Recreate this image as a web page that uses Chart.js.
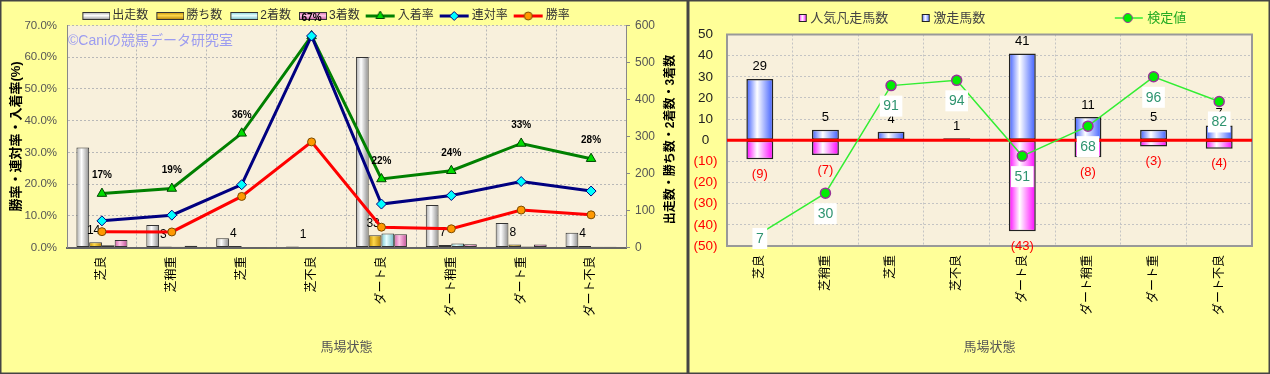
<!DOCTYPE html>
<html>
<head>
<meta charset="utf-8">
<script src="https://cdn.jsdelivr.net/npm/chart.js@4.4.1/dist/chart.umd.min.js"></script>
<style>
  html, body { margin: 0; padding: 0; background: #ffff99; }
  #wrap { position: relative; width: 1270px; height: 374px; }
  #left { position: absolute; left: 0; top: 0; width: 688px; height: 374px; }
  #right { position: absolute; left: 688px; top: 0; width: 582px; height: 374px; }
</style>
</head>
<body>
<div id="wrap">
  <canvas id="left" width="688" height="374"></canvas>
  <canvas id="right" width="582" height="374"></canvas>
</div>
<script>
var categories = ['芝良', '芝稍重', '芝重', '芝不良', 'ダート良', 'ダート稍重', 'ダート重', 'ダート不良'];

// left chart: head counts (right axis)
var starts  = [270, 61, 25, 3, 515, 115, 66, 40];
var wins    = [14, 3, 4, 1, 33, 7, 8, 4];
var seconds = [6, 2, 1, 1, 38, 11, 3, 2];
var thirds  = [20, 5, 1, 0, 36, 9, 8, 2];

// left chart: rates in % (left axis)
var placeRate    = [17.0, 18.6, 36.0, 66.7, 21.6, 24.2, 32.8, 28.0];
var quinellaRate = [8.4, 10.2, 19.8, 66.7, 13.7, 16.4, 20.8, 17.8];
var winRate      = [5.0, 4.9, 16.1, 33.3, 6.4, 5.9, 11.8, 10.3];

// right chart
var hitCounts  = [29, 5, 4, 1, 41, 11, 5, 7];
var flopCounts = [-9, -7, 0, 0, -43, -8, -3, -4];
var testValues = [7, 30, 91, 94, 51, 68, 96, 82];

var FONT = '"Liberation Sans", "Noto Sans CJK JP", sans-serif';
Chart.defaults.font.family = FONT;
Chart.defaults.animation = false;

// yellow panel, beige plot area, outer frame
var panelPlugin = {
  id: 'panel',
  beforeDraw: function(chart) {
    var c = chart.ctx, a = chart.chartArea;
    c.save();
    c.fillStyle = '#ffff99';
    c.fillRect(0, 0, chart.width, chart.height);
    c.fillStyle = '#f8f0dc';
    c.fillRect(a.left, a.top, a.right - a.left, a.bottom - a.top);
    c.restore();
  },
  afterDraw: function(chart) {
    var c = chart.ctx;
    c.save();
    c.strokeStyle = '#444';
    c.lineWidth = 1.5;
    c.strokeRect(0.75, 0.75, chart.width - 1.5, chart.height - 1.5);
    c.restore();
  }
};

// cylinder look for the bars
var cylinderPlugin = {
  id: 'cylinder',
  beforeDatasetsDraw: function(chart) {
    var c = chart.ctx;
    chart.data.datasets.forEach(function(ds, i) {
      if (!ds.shade) return;
      chart.getDatasetMeta(i).data.forEach(function(bar) {
        var g = c.createLinearGradient(bar.x - bar.width / 2, 0, bar.x + bar.width / 2, 0);
        g.addColorStop(0, ds.shade[0]);
        g.addColorStop(0.4, ds.shade[1]);
        g.addColorStop(1, ds.shade[2]);
        bar.options = Object.assign({}, bar.options, { backgroundColor: g });
      });
    });
  }
};

// fixed legend height and a horizontal nudge
function legendFit(height, dx) {
  return {
    id: 'legendFit',
    afterInit: function(chart) {
      var lg = chart.legend;
      var orig = lg.fit;
      lg.fit = function() { orig.call(this); this.height = height; };
    },
    afterLayout: function(chart) {
      chart.legend.left += dx;
      chart.legend.right += dx;
    }
  };
}

function makeIcon(w, h, draw) {
  var cv = document.createElement('canvas');
  cv.width = w; cv.height = h;
  draw(cv.getContext('2d'));
  return cv;
}
function barIcon(shade) {
  return makeIcon(36, 12, function(c) {
    var g = c.createLinearGradient(0, 2, 0, 10);
    g.addColorStop(0, shade[0]); g.addColorStop(0.45, shade[1]); g.addColorStop(1, shade[2]);
    c.fillStyle = g;
    c.fillRect(8.5, 2.5, 27, 7);
    c.strokeStyle = '#333'; c.lineWidth = 1;
    c.strokeRect(8.5, 2.5, 27, 7);
  });
}
function lineIcon(color, width, style, radius, fill, stroke, x0, x1, mx) {
  return makeIcon(36, 14, function(c) {
    c.strokeStyle = color; c.lineWidth = width;
    c.beginPath(); c.moveTo(x0, 7); c.lineTo(x1, 7); c.stroke();
    c.fillStyle = fill; c.strokeStyle = stroke; c.lineWidth = 1;
    Chart.helpers.drawPoint(c, { pointStyle: style, radius: radius, rotation: 0, borderWidth: 1 }, mx, 7);
  });
}
function squareIcon(shade) {
  return makeIcon(36, 12, function(c) {
    var g = c.createLinearGradient(27, 0, 35, 0);
    g.addColorStop(0, shade[0]); g.addColorStop(0.45, shade[1]); g.addColorStop(1, shade[2]);
    c.fillStyle = g;
    c.fillRect(27.5, 2.5, 7, 7);
    c.strokeStyle = '#222'; c.lineWidth = 1;
    c.strokeRect(27.5, 2.5, 7, 7);
  });
}

var shStarts = ['#a8a8a8', '#ffffff', '#8c8c8c'];
var shWins   = ['#c08c00', '#ffd84a', '#b07a00'];
var shSecond = ['#78c8d4', '#e8ffff', '#6cb8c4'];
var shThird  = ['#d060a8', '#ffc4e6', '#c05098'];

var leftIcons = [
  barIcon(shStarts), barIcon(shWins), barIcon(shSecond), barIcon(shThird),
  lineIcon('#008000', 3, 'triangle', 5, '#00dd00', '#004400', 6, 35, 20.5),
  lineIcon('#000080', 3, 'rectRot', 4.5, '#00ffff', '#000080', 6, 35, 20.5),
  lineIcon('#ff0000', 3, 'circle', 4, '#ff9900', '#7a4a00', 6, 35, 20.5)
];

var leftLabels = {
  id: 'leftLabels',
  beforeDatasetsDraw: function(chart) {
    var c = chart.ctx, a = chart.chartArea;
    c.save();
    c.font = '14px ' + FONT;
    c.fillStyle = '#9c9cf0';
    c.textBaseline = 'middle';
    c.fillText('©Caniの競馬データ研究室', a.left + 1, a.top + 16);
    c.restore();
  },
  afterDatasetDraw: function(chart, args) {
    if (args.index !== 0) return;
    var c = chart.ctx;
    c.save();
    c.font = '12px ' + FONT;
    c.fillStyle = '#000';
    c.textAlign = 'center';
    c.textBaseline = 'middle';
    chart.getDatasetMeta(1).data.forEach(function(bar, i) {
      c.fillText(String(wins[i]), bar.x - 2, bar.y - 12);
    });
    c.restore();
  },
  afterDatasetsDraw: function(chart) {
    var c = chart.ctx;
    c.save();
    c.font = 'bold 10px ' + FONT;
    c.fillStyle = '#000';
    c.textAlign = 'center';
    c.textBaseline = 'middle';
    chart.getDatasetMeta(4).data.forEach(function(pt, i) {
      c.fillText(Math.round(placeRate[i]) + '%', pt.x, pt.y - 18);
    });
    c.restore();
  },
  afterDraw: function(chart) {
    // right axis title reads bottom-to-top like the left one
    var c = chart.ctx, a = chart.chartArea;
    c.save();
    c.translate(chart.scales.y1.right - 17, (a.top + a.bottom) / 2 + 3);
    c.rotate(-Math.PI / 2);
    c.font = 'bold 12px ' + FONT;
    c.fillStyle = '#000';
    c.textAlign = 'center';
    c.textBaseline = 'middle';
    c.fillText('出走数・勝ち数・2着数・3着数', 0, 0);
    c.restore();
  }
};

new Chart(document.getElementById('left'), {
  type: 'bar',
  data: {
    labels: categories,
    datasets: [
      { label: '出走数', data: starts, yAxisID: 'y1', order: 3, shade: shStarts },
      { label: '勝ち数', data: wins, yAxisID: 'y1', order: 3, shade: shWins },
      { label: '2着数', data: seconds, yAxisID: 'y1', order: 3, shade: shSecond },
      { label: '3着数', data: thirds, yAxisID: 'y1', order: 3, shade: shThird },
      { type: 'line', label: '入着率', data: placeRate, yAxisID: 'y', order: 2,
        borderColor: '#008000', borderWidth: 3, pointStyle: 'triangle', pointRadius: 5.5,
        pointBackgroundColor: '#00dd00', pointBorderColor: '#004400', pointBorderWidth: 1 },
      { type: 'line', label: '連対率', data: quinellaRate, yAxisID: 'y', order: 1,
        borderColor: '#000080', borderWidth: 3, pointStyle: 'rectRot', pointRadius: 5,
        pointBackgroundColor: '#00ffff', pointBorderColor: '#000080', pointBorderWidth: 1 },
      { type: 'line', label: '勝率', data: winRate, yAxisID: 'y', order: 0,
        borderColor: '#ff0000', borderWidth: 3, pointStyle: 'circle', pointRadius: 4,
        pointBackgroundColor: '#ff9900', pointBorderColor: '#7a4a00', pointBorderWidth: 1 }
    ]
  },
  options: {
    responsive: false,
    layout: { padding: { top: 6, left: 0, right: 0, bottom: 0 } },
    datasets: {
      bar: { categoryPercentage: 0.73, barPercentage: 1, borderColor: '#333', borderWidth: 1, borderSkipped: false }
    },
    plugins: {
      tooltip: { enabled: false },
      legend: {
        labels: {
          usePointStyle: true,
          pointStyleWidth: 28,
          padding: 4,
          color: '#333',
          font: { size: 12 },
          generateLabels: function(chart) {
            return chart.data.datasets.map(function(ds, i) {
              return { text: ds.label, pointStyle: leftIcons[i], datasetIndex: i, hidden: false,
                       lineWidth: 0, fillStyle: 'transparent', strokeStyle: 'transparent', fontColor: '#333' };
            });
          }
        }
      }
    },
    scales: {
      x: {
        grid: { color: '#b8b8b8', drawTicks: false, offset: true },
        border: { color: '#666', width: 2, dash: [2, 2] },
        ticks: { color: '#000', font: { size: 12 }, minRotation: 90, maxRotation: 90, padding: 9, autoSkip: false },
        title: { display: true, text: '馬場状態', color: '#555', font: { size: 13 }, padding: { top: 0, bottom: 19 } },
        afterFit: function(s) { s.height = 126.5; }
      },
      y: {
        position: 'left', min: 0, max: 70,
        ticks: { stepSize: 10, color: '#555', font: { size: 11.5 }, padding: 10,
                 callback: function(v) { return v.toFixed(1) + '%'; } },
        grid: { color: '#b8b8b8', drawTicks: false },
        border: { color: '#888', width: 1, dash: [2, 2] },
        title: { display: true, text: '勝率・連対率・入着率(%)', color: '#000',
                 font: { size: 13, weight: 'bold' }, padding: { top: 9, bottom: 0 } },
        afterFit: function(s) { s.width = 67; }
      },
      y1: {
        position: 'right', min: 0, max: 600,
        ticks: { stepSize: 100, color: '#555', font: { size: 12 }, padding: 5 },
        grid: { drawOnChartArea: false, drawTicks: true, tickLength: 4, color: '#888' },
        border: { color: '#888', width: 1 },
        afterFit: function(s) { s.width = 62; }
      }
    }
  },
  plugins: [panelPlugin, cylinderPlugin, legendFit(19.5, -20), leftLabels]
});

// ---------- right chart ----------
var shHit  = ['#3c5cff', '#ffffff', '#3c5cff'];
var shFlop = ['#ff00ff', '#ffffff', '#ff00ff'];

var rightIcons = [
  squareIcon(shFlop),
  squareIcon(shHit),
  lineIcon('#33ee33', 1.5, 'circle', 4.5, '#00ee00', '#993399', 6, 34, 19)
];
var rightLegendText = ['人気凡走馬数', '激走馬数' + '\u3000'.repeat(9), '検定値'];

var rightLabels = {
  id: 'rightLabels',
  beforeDatasetsDraw: function(chart) {
    var c = chart.ctx, a = chart.chartArea;
    c.save();
    c.strokeStyle = '#999';
    c.lineWidth = 2;
    c.strokeRect(a.left, a.top, a.right - a.left, a.bottom - a.top);
    c.restore();
  },
  beforeDatasetDraw: function(chart, args) {
    if (args.meta.type !== 'line') return;
    var c = chart.ctx, a = chart.chartArea;
    var y0 = chart.scales.y.getPixelForValue(0);
    c.save();
    c.strokeStyle = '#ff0000';
    c.lineWidth = 3;
    c.beginPath(); c.moveTo(a.left, y0); c.lineTo(a.right, y0); c.stroke();
    c.restore();
  },
  afterDatasetsDraw: function(chart) {
    var c = chart.ctx, a = chart.chartArea;
    c.save();
    c.textAlign = 'center';
    c.textBaseline = 'middle';
    c.font = '13px ' + FONT;
    c.fillStyle = '#000';
    chart.getDatasetMeta(1).data.forEach(function(bar, i) {
      c.fillText(String(hitCounts[i]), bar.x, bar.y - 12);
    });
    c.fillStyle = '#ff0000';
    chart.getDatasetMeta(0).data.forEach(function(bar, i) {
      if (flopCounts[i] === 0) return;
      c.fillText('(' + (-flopCounts[i]) + ')', bar.x, bar.y + 15);
    });
    c.font = '14px ' + FONT;
    chart.getDatasetMeta(2).data.forEach(function(pt, i) {
      var t = String(testValues[i]);
      var y = Math.min(pt.y + 20, a.bottom - 8);
      var w = c.measureText(t).width + 7;
      c.fillStyle = '#ffffff';
      c.fillRect(pt.x - w / 2, y - 10, w, 21);
      c.fillStyle = '#2f9470';
      c.fillText(t, pt.x, y + 1);
    });
    c.restore();
  }
};

new Chart(document.getElementById('right'), {
  type: 'bar',
  data: {
    labels: categories,
    datasets: [
      { label: '人気凡走馬数', data: flopCounts, yAxisID: 'y', stack: 'a', order: 1, shade: shFlop },
      { label: '激走馬数', data: hitCounts, yAxisID: 'y', stack: 'a', order: 1, shade: shHit },
      { type: 'line', label: '検定値', data: testValues, yAxisID: 'y2', order: 0,
        borderColor: '#33ee33', borderWidth: 1.5, pointStyle: 'circle', pointRadius: 5,
        pointBackgroundColor: '#00ee00', pointBorderColor: '#993399', pointBorderWidth: 1.5 }
    ]
  },
  options: {
    responsive: false,
    layout: { padding: { top: 1, left: 0, right: 18, bottom: 0 } },
    datasets: {
      bar: { categoryPercentage: 0.41, barPercentage: 1, borderColor: '#222', borderWidth: 1.5, borderSkipped: false }
    },
    plugins: {
      tooltip: { enabled: false },
      legend: {
        labels: {
          usePointStyle: true,
          pointStyleWidth: 28,
          padding: 10.5,
          color: '#444',
          font: { size: 13 },
          generateLabels: function(chart) {
            return chart.data.datasets.map(function(ds, i) {
              return { text: rightLegendText[i], pointStyle: rightIcons[i], datasetIndex: i, hidden: false,
                       lineWidth: 0, fillStyle: 'transparent', strokeStyle: 'transparent',
                       fontColor: i === 2 ? '#22aa22' : '#444' };
            });
          }
        }
      }
    },
    scales: {
      x: {
        stacked: true,
        grid: { color: '#c4c4c4', drawTicks: false, offset: true },
        border: { color: '#999', width: 2, dash: [2, 2] },
        ticks: { color: '#000', font: { size: 12 }, minRotation: 90, maxRotation: 90, padding: 9, autoSkip: false },
        title: { display: true, text: '馬場状態', color: '#555', font: { size: 13 }, padding: { top: 0, bottom: 19 } },
        afterFit: function(s) { s.height = 128; }
      },
      y: {
        stacked: true, min: -50, max: 50,
        ticks: { stepSize: 10, font: { size: 13.5 }, padding: 9.5, crossAlign: 'center',
                 color: function(ctx) { return ctx.tick.value < 0 ? '#ff0000' : '#222'; },
                 callback: function(v) { return v < 0 ? '(' + (-v) + ')' : String(v); } },
        grid: { color: '#c4c4c4', drawTicks: false },
        border: { color: '#999', width: 2, dash: [2, 2] },
        afterFit: function(s) { s.width = 39; }
      },
      y2: { display: false, min: 0, max: 120 }
    }
  },
  plugins: [panelPlugin, cylinderPlugin, legendFit(33.5, 11), rightLabels]
});
</script>
</body>
</html>
